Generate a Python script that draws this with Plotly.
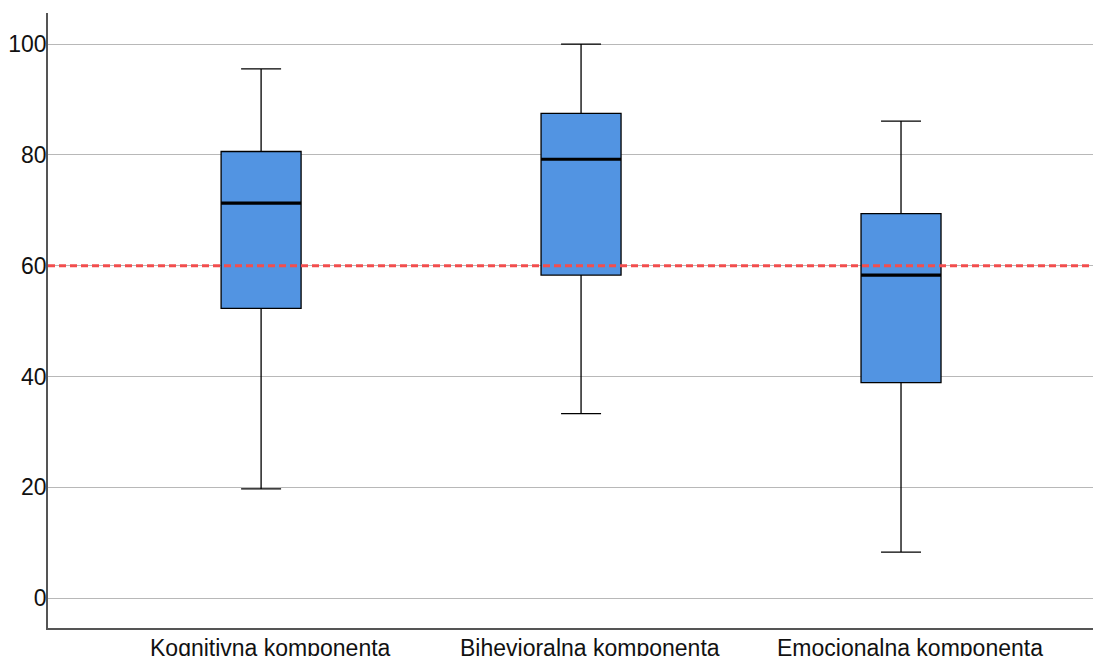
import plotly.graph_objects as go

categories = ["Kognitivna komponenta", "Bihevioralna komponenta", "Emocionalna komponenta"]
lower = [19.7, 33.3, 8.3]
q1 = [52.3, 58.3, 38.9]
median = [71.3, 79.2, 58.3]
q3 = [80.6, 87.5, 69.4]
upper = [95.5, 100.0, 86.1]
reference = 60
y_ticks = [0, 20, 40, 60, 80, 100]

BOX_W = 0.25

fig = go.Figure()
fig.add_trace(go.Box(
    x=categories,
    q1=q1, median=median, q3=q3,
    lowerfence=lower, upperfence=upper,
    width=BOX_W,
    whiskerwidth=0.5,
    fillcolor="#5294E2",
    line=dict(color="black", width=1.3),
    boxpoints=False,
    showlegend=False,
))

shapes = []
for i, m in enumerate(median):
    shapes.append(dict(type="line", xref="x", yref="y",
                       x0=i - BOX_W / 2, x1=i + BOX_W / 2, y0=m, y1=m,
                       line=dict(color="black", width=3.2), layer="above"))
shapes.append(dict(type="line", xref="paper", yref="y", x0=0, x1=1,
                   y0=reference, y1=reference,
                   line=dict(color="#F24E4E", width=3, dash="7px,4px"), layer="above"))

# category labels (slightly offset to the right, as in the original)
annotations = [dict(text=c, xref="x", yref="paper", x=c, y=0,
                    xanchor="center", yanchor="top", showarrow=False,
                    xshift=9, yshift=-5, font=dict(size=23))
               for c in categories]

fig.update_layout(
    width=1093, height=648,
    margin=dict(l=40, r=0, t=5, b=28),
    plot_bgcolor="white", paper_bgcolor="white",
    font=dict(family="Liberation Sans, Arial, sans-serif", size=23, color="#111111"),
    shapes=shapes,
    annotations=annotations,
    xaxis=dict(
        type="category",
        range=[-0.666, 2.625],
        showgrid=False, zeroline=False,
        showline=True, linecolor="#555555", linewidth=1.5,
        ticks="", showticklabels=False,
        automargin=False,
        fixedrange=True,
    ),
    yaxis=dict(
        range=[-5.4, 105.6],
        tickvals=y_ticks,
        showgrid=True, gridcolor="#b8b8b8", gridwidth=1.3,
        zeroline=False,
        showline=True, linecolor="#555555", linewidth=1.5,
        ticks="", ticklen=0,
        ticklabelstandoff=-5,
        automargin=False,
    ),
)

fig.write_html("out.html")
